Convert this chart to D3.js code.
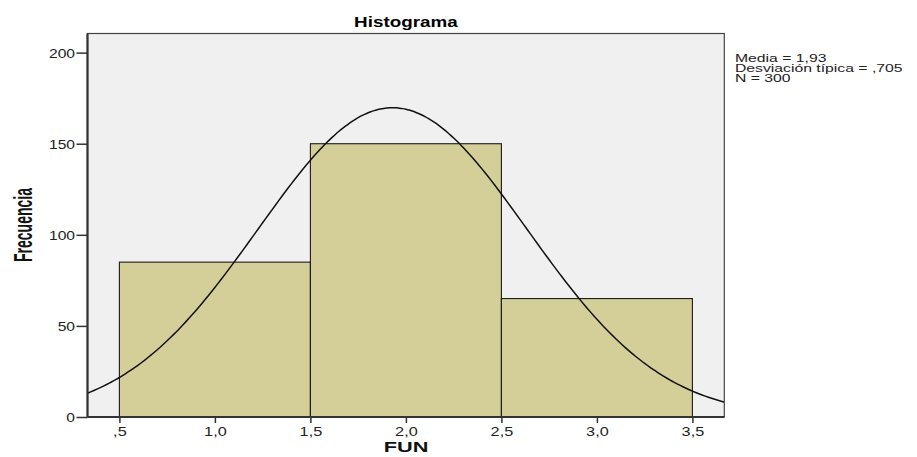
<!DOCTYPE html>
<html>
<head>
<meta charset="utf-8">
<script src="https://cdn.jsdelivr.net/npm/d3@7"></script>
<style>
  body { margin: 0; background: #fff; }
  svg { display: block; font-family: Arial, "Liberation Sans", sans-serif; }
</style>
</head>
<body>
<svg width="917" height="457"></svg>
<script>
// ---- data
var binEdges = [0.5, 1.5, 2.5, 3.5];
var counts = [85, 150, 65];
var xTicks = [0.5, 1.0, 1.5, 2.0, 2.5, 3.0, 3.5];
var xTickLabels = [",5", "1,0", "1,5", "2,0", "2,5", "3,0", "3,5"];
var yTicks = [0, 50, 100, 150, 200];
var statMean = 1.93;
var statSd = 0.705;
var statN = 300;
var legendLines = ["Media = 1,93", "Desviación típica = ,705", "N = 300"];

// ---- layout
var plot = {left: 87.5, right: 724.3, top: 33.5, bottom: 417};
var svg = d3.select("svg");

var x = d3.scaleLinear().domain([0.333, 3.667]).range([plot.left, plot.right]);
var y = d3.scaleLinear().domain([0, 210.5]).range([plot.bottom, plot.top]);

// plot background
svg.append("rect")
  .attr("x", plot.left).attr("y", plot.top)
  .attr("width", plot.right - plot.left).attr("height", plot.bottom - plot.top)
  .attr("fill", "#f0f0f0")
  .attr("stroke", "#444").attr("stroke-width", 1.2);

svg.append("clipPath").attr("id", "clip")
  .append("rect")
  .attr("x", plot.left).attr("y", plot.top)
  .attr("width", plot.right - plot.left).attr("height", plot.bottom - plot.top);

// bars
var bins = counts.map(function(c, i) { return {x0: binEdges[i], x1: binEdges[i + 1], n: c}; });
svg.append("g").selectAll("rect")
  .data(bins)
  .enter().append("rect")
  .attr("x", function(d) { return x(d.x0); })
  .attr("width", function(d) { return x(d.x1) - x(d.x0); })
  .attr("y", function(d) { return y(d.n); })
  .attr("height", function(d) { return y(0) - y(d.n); })
  .attr("fill", "#d4cf98")
  .attr("stroke", "#1a1a1a")
  .attr("stroke-width", 1.1);

// normal curve from the stated mean / sd / N (bin width 1)
var binWidth = binEdges[1] - binEdges[0];
var curveX = d3.range(0, 201).map(function(i) { return x.domain()[0] + i * (x.domain()[1] - x.domain()[0]) / 200; });
var curvePts = curveX.map(function(v) {
  var z = (v - statMean) / statSd;
  return [v, statN * binWidth * Math.exp(-0.5 * z * z) / (statSd * Math.sqrt(2 * Math.PI))];
});
svg.append("path")
  .datum(curvePts)
  .attr("clip-path", "url(#clip)")
  .attr("fill", "none")
  .attr("stroke", "#111")
  .attr("stroke-width", 1.5)
  .attr("d", d3.line().x(function(d) { return x(d[0]); }).y(function(d) { return y(d[1]); }).curve(d3.curveBasis));

// axes
var yAxis = svg.append("g")
  .attr("transform", "translate(" + plot.left + ",0)")
  .call(d3.axisLeft(y).tickValues(yTicks).tickSize(11).tickFormat(d3.format("d")));
yAxis.select(".domain").remove();
yAxis.selectAll("line").attr("stroke", "#333").attr("stroke-width", 1.5);
yAxis.selectAll("text")
  .attr("x", null).attr("dy", null).attr("y", 4.5)
  .attr("transform", "translate(-12.5,0) scale(1.25,1)")
  .attr("font-size", 12.5).attr("fill", "#222")
  .attr("font-family", "Arial, 'Liberation Sans', sans-serif");

var xAxis = svg.append("g")
  .attr("transform", "translate(0," + plot.bottom + ")")
  .call(d3.axisBottom(x).tickValues(xTicks).tickSize(6)
    .tickFormat(function(d, i) { return xTickLabels[i]; }));
xAxis.select(".domain").remove();
xAxis.selectAll("line").attr("stroke", "#333").attr("stroke-width", 1.5);
xAxis.selectAll("text")
  .attr("y", null).attr("dy", null)
  .attr("transform", "translate(0,18.5) scale(1.3,1)")
  .attr("font-size", 12.5).attr("fill", "#222")
  .attr("font-family", "Arial, 'Liberation Sans', sans-serif");

// heavier left / bottom axis lines
svg.append("line")
  .attr("x1", plot.left).attr("x2", plot.left).attr("y1", plot.top).attr("y2", plot.bottom)
  .attr("stroke", "#333").attr("stroke-width", 2.2);
svg.append("line")
  .attr("x1", plot.left).attr("x2", plot.right).attr("y1", plot.bottom).attr("y2", plot.bottom)
  .attr("stroke", "#333").attr("stroke-width", 2.2);

// title
svg.append("text")
  .attr("transform", "translate(" + ((plot.left + plot.right) / 2) + ",27) scale(1.3,1)")
  .attr("text-anchor", "middle")
  .attr("font-weight", "bold").attr("font-size", 14.5)
  .text("Histograma");

// axis titles
svg.append("text")
  .attr("transform", "translate(406,452) scale(1.45,1)")
  .attr("text-anchor", "middle")
  .attr("font-weight", "bold").attr("font-size", 15)
  .attr("fill", "#111")
  .text("FUN");

svg.append("text")
  .attr("transform", "translate(32,225) rotate(-90) scale(1,1.8)")
  .attr("text-anchor", "middle")
  .attr("font-weight", "bold").attr("font-size", 14)
  .attr("fill", "#111")
  .text("Frecuencia");

// stats legend
svg.append("g").selectAll("text")
  .data(legendLines)
  .enter().append("text")
  .attr("transform", function(d, i) { return "translate(735," + (62 + i * 10) + ") scale(1.5,1)"; })
  .attr("font-size", 10.5)
  .attr("fill", "#222")
  .text(function(d) { return d; });
</script>
</body>
</html>
